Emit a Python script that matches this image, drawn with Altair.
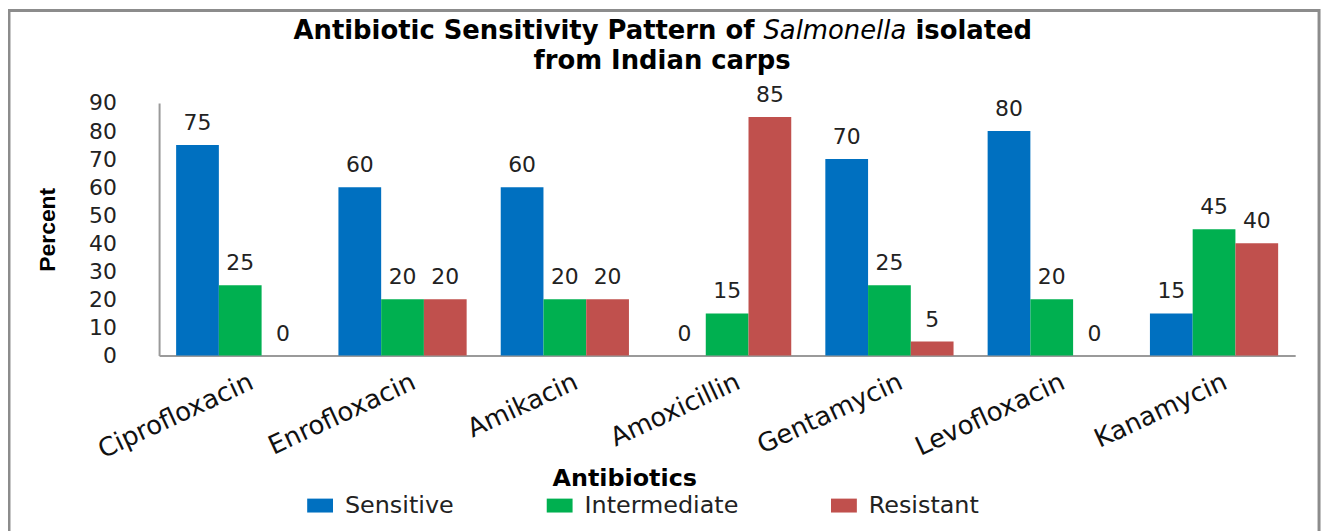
import altair as alt
import pandas as pd

# ---- data ----
antibiotics = ["Ciprofloxacin", "Enrofloxacin", "Amikacin", "Amoxicillin",
               "Gentamycin", "Levofloxacin", "Kanamycin"]
categories = ["Sensitive", "Intermediate", "Resistant"]
sensitive = [75, 60, 60, 0, 70, 80, 15]
intermediate = [25, 20, 20, 15, 25, 20, 45]
resistant = [0, 20, 20, 85, 5, 0, 40]
y_ticks = [0, 10, 20, 30, 40, 50, 60, 70, 80, 90]
colors = ["#0070C0", "#00B050", "#C0504D"]

title_prefix = "Antibiotic Sensitivity Pattern of"
title_italic = "Salmonella"
title_suffix = "isolated"
title_line2 = "from  Indian carps"

rows = []
for series_name, vals in zip(categories, [sensitive, intermediate, resistant]):
    for ab, v in zip(antibiotics, vals):
        rows.append({"Antibiotic": ab, "Category": series_name, "Percent": v})
df = pd.DataFrame(rows)

W, H = 1143, 254
NUM_FONT = "DejaVu Sans"

base = alt.Chart(df).encode(
    x=alt.X("Antibiotic:N", sort=antibiotics,
            scale=alt.Scale(paddingInner=0.21, paddingOuter=0.105),
            axis=alt.Axis(title="Antibiotics", labelAngle=-25, labelFontSize=26,
                          labelFont="DejaVu Sans", labelColor="#111", labelPadding=13,
                          labelOffset=6, ticks=False, domainColor="#9a9a9a", domainWidth=2,
                          titleFont="DejaVu Sans", titleFontSize=24, titleFontWeight="bold",
                          titleColor="#000", titleX=468, titleY=131, titleAlign="center",
                          titleBaseline="alphabetic", titleAnchor="start")),
    xOffset=alt.XOffset("Category:N", sort=categories,
                        scale=alt.Scale(domain=categories, paddingInner=0, paddingOuter=0)),
    y=alt.Y("Percent:Q", scale=alt.Scale(domain=[0, 90], nice=False),
            axis=alt.Axis(title="Percent", values=y_ticks, grid=False, ticks=False,
                          labelFont=NUM_FONT, labelFontSize=22, labelColor="#222",
                          labelPadding=43, domainColor="#9a9a9a", domainWidth=2,
                          titleFont="Liberation Sans", titleFontSize=23, titleFontWeight="bold",
                          titleColor="#000", titleX=-105, titleY=127, titleAngle=-90,
                          titleAlign="center", titleBaseline="alphabetic")),
)

bars = base.mark_bar().encode(
    color=alt.Color("Category:N", sort=categories,
                    scale=alt.Scale(domain=categories, range=colors),
                    legend=alt.Legend(title=None, orient="none", legendX=150, legendY=393,
                                      direction="horizontal",
                                      symbolType="M-1.3,-0.7H1.3V0.7H-1.3Z",
                                      symbolSize=400, symbolStrokeWidth=0,
                                      labelFont="DejaVu Sans", labelFontSize=24,
                                      labelColor="#222", labelOffset=13,
                                      columnPadding=93, padding=0))
)

labels = base.mark_text(dy=-15, baseline="alphabetic", align="center",
                        fontSize=22, font=NUM_FONT, color="#222").encode(
    text=alt.Text("Percent:Q")
)

one = pd.DataFrame({"k": [0]})

Y1, Y2 = -64, -34
t1 = alt.Chart(one).mark_text(align="right", baseline="alphabetic", font="DejaVu Sans",
                              fontSize=26, fontWeight="bold", color="#000").encode(
    x=alt.value(599), y=alt.value(Y1), text=alt.value(title_prefix))
t2 = alt.Chart(one).mark_text(align="left", baseline="alphabetic", font="DejaVu Sans",
                              fontSize=26, fontStyle="italic", color="#000").encode(
    x=alt.value(608), y=alt.value(Y1), text=alt.value(title_italic))
t3 = alt.Chart(one).mark_text(align="left", baseline="alphabetic", font="DejaVu Sans",
                              fontSize=26, fontWeight="bold", color="#000").encode(
    x=alt.value(761), y=alt.value(Y1), text=alt.value(title_suffix))
t4 = alt.Chart(one).mark_text(align="center", baseline="alphabetic", font="DejaVu Sans",
                              fontSize=26, fontWeight="bold", color="#000").encode(
    x=alt.value(506), y=alt.value(Y2), text=alt.value(title_line2))

border = alt.Chart(one).mark_rect(fillOpacity=0, stroke="#8c8c8c", strokeWidth=3).encode(
    x=alt.value(-151), x2=alt.value(1167), y=alt.value(-93), y2=alt.value(440))

chart = alt.layer(border, bars, labels, t1, t2, t3, t4).properties(
    width=W, height=H,
    autosize=alt.AutoSizeParams(type="none"),
    padding={"left": 152, "top": 94, "right": 32, "bottom": 175},
    background="white",
).configure_view(stroke=None)

chart.save("out.html", embed_options={"renderer": "svg", "actions": False})
